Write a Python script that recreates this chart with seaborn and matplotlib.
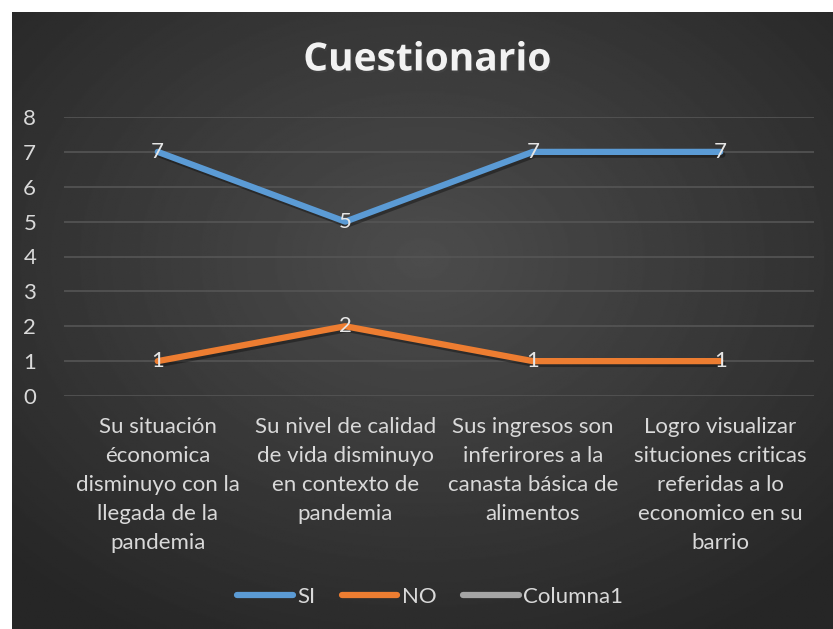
import numpy as np
import pandas as pd
import seaborn as sns
import matplotlib.pyplot as plt
import matplotlib.patheffects as pe
from matplotlib.lines import Line2D

# data
categories = [
    "Su situación\néconomica\ndisminuyo con la\nllegada de la\npandemia",
    "Su nivel de calidad\nde vida disminuyo\nen contexto de\npandemia",
    "Sus ingresos son\ninferirores a la\ncanasta básica de\nalimentos",
    "Logro visualizar\nsituciones criticas\nreferidas a lo\neconomico en su\nbarrio",
]
si_values = [7, 5, 7, 7]
no_values = [1, 2, 1, 1]
series_names = ["SI", "NO", "Columna1"]
series_colors = ["#5b9bd5", "#ed7d31", "#a5a5a5"]

df = pd.DataFrame({
    "pos": list(range(len(categories))) * 2,
    "valor": si_values + no_values,
    "serie": ["SI"] * len(si_values) + ["NO"] * len(no_values),
})

sns.set_theme(style="dark")
plt.rcParams["font.family"] = ["Lato", "DejaVu Sans"]

W, H = 833, 629
fig = plt.figure(figsize=(W / 100, H / 100), dpi=100)
fig.patch.set_facecolor("white")

# dark panel with radial gradient
bg = fig.add_axes([12 / W, 0, 1 - 12 / W, 1 - 12 / H])
yy, xx = np.mgrid[0:1:400j, 0:1:600j]
r = np.sqrt(((xx - 0.5) / 0.75) ** 2 + ((yy - 0.40) / 0.75) ** 2)
shade = np.clip(0.30 - 0.16 * r, 0.15, 0.30)
bg.imshow(shade, cmap="gray", vmin=0, vmax=1, aspect="auto", extent=[0, 1, 1, 0])
bg.set_axis_off()

ax = fig.add_axes([64 / W, 233 / H, 750 / W, 279 / H])
ax.set_facecolor("none")

shadow = [pe.SimpleLineShadow(offset=(1.5, -2), shadow_color="black", alpha=0.35), pe.Normal()]
sns.lineplot(data=df, x="pos", y="valor", hue="serie", hue_order=["SI", "NO"],
             palette=series_colors[:2], linewidth=4.5, ax=ax, legend=False,
             path_effects=shadow)
for line in ax.get_lines():
    line.set_solid_capstyle("round")

for i in range(len(categories)):
    ax.text(i, si_values[i], str(si_values[i]), ha="center", va="center",
            color="#e6e6e6", fontsize=16)
    ax.text(i, no_values[i], str(no_values[i]), ha="center", va="center",
            color="#e6e6e6", fontsize=16)

ax.set_xlim(-0.5, len(categories) - 0.5)
ax.set_ylim(0, 8)
ax.set_yticks(range(0, 9))
ax.set_xticks(range(len(categories)))
ax.set_xticklabels(categories, linespacing=1.57)
ax.tick_params(axis="both", colors="#d9d9d9", labelsize=16, length=0)
ax.tick_params(axis="y", pad=20)
ax.tick_params(axis="x", pad=15)
for lab in ax.get_xticklabels() + ax.get_yticklabels():
    lab.set_color("#d9d9d9")
ax.yaxis.grid(True, color="#555555", linewidth=1.2)
ax.xaxis.grid(False)
for s in ax.spines.values():
    s.set_visible(False)
ax.set_xlabel("")
ax.set_ylabel("")

fig.text(427 / W, 1 - 60 / H, "Cuestionario", ha="center", va="center",
         fontsize=28, fontweight="bold", color="#f2f2f2", family=["Open Sans", "DejaVu Sans"],
         path_effects=[pe.withSimplePatchShadow(offset=(1, -1.5), alpha=0.5)])

handles = [Line2D([0], [0], color=c, linewidth=4.5, solid_capstyle="round") for c in series_colors]
fig.legend(handles, series_names, loc="center", bbox_to_anchor=(430 / W, 1 - 597 / H),
           ncol=3, frameon=False, fontsize=16, labelcolor="#d9d9d9",
           handlelength=2.5, handletextpad=0.2, columnspacing=1.2)

fig.savefig("out.png", dpi=100)
